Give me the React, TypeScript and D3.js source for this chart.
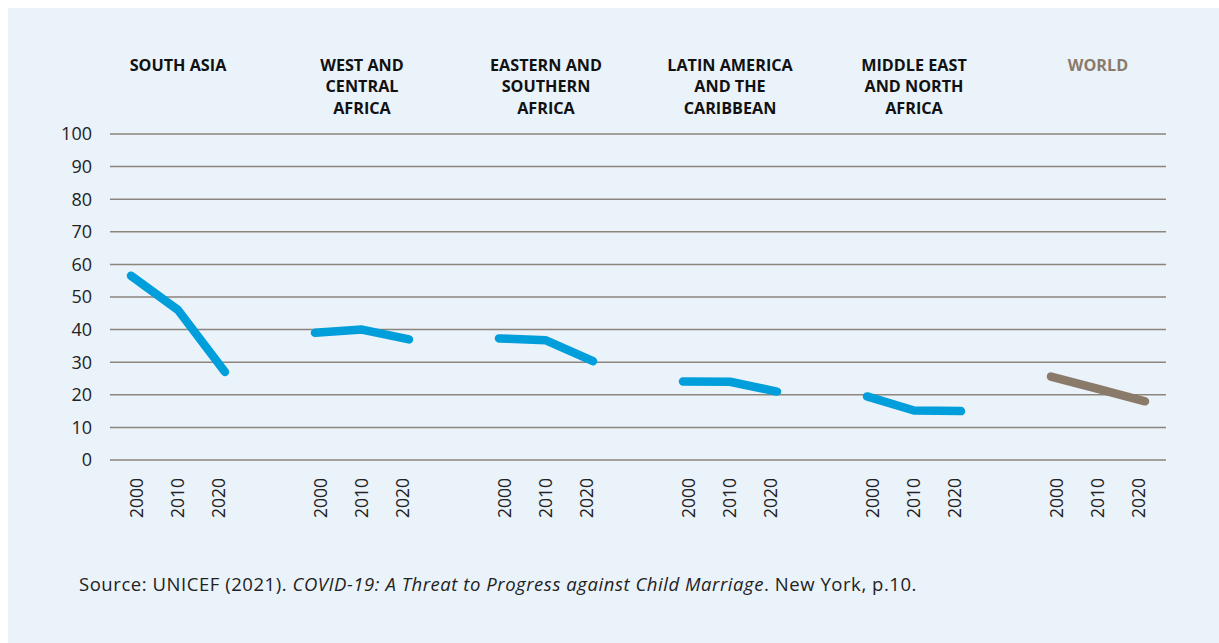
import React from 'react';
import * as d3 from 'd3';

// regions shown as small panels, left to right
const regions = [
  'South Asia',
  'West and Central Africa',
  'Eastern and Southern Africa',
  'Latin America and the Caribbean',
  'Middle East and North Africa',
  'World'
];
// title broken into lines like the original
const regionTitles = [
  ['SOUTH ASIA'],
  ['WEST AND', 'CENTRAL', 'AFRICA'],
  ['EASTERN AND', 'SOUTHERN', 'AFRICA'],
  ['LATIN AMERICA', 'AND THE', 'CARIBBEAN'],
  ['MIDDLE EAST', 'AND NORTH', 'AFRICA'],
  ['WORLD']
];
const years = ['2000', '2010', '2020'];

// percentage values per region, one per year
const southAsia = [56.5, 46, 27];
const westCentralAfrica = [39, 40, 37];
const easternSouthernAfrica = [37.3, 36.7, 30.3];
const latinAmerica = [24.1, 24, 21];
const middleEastNorthAfrica = [19.5, 15.2, 15];
const world = [25.6, 21.8, 18];

const seriesValues = [
  southAsia,
  westCentralAfrica,
  easternSouthernAfrica,
  latinAmerica,
  middleEastNorthAfrica,
  world
];

const yTicks = [0, 10, 20, 30, 40, 50, 60, 70, 80, 90, 100];

const W = 1219;
const H = 643;
const BG = '#eaf2fa';
const BLUE = '#009edb';
const BROWN = '#8a7a6a';
const GRID = '#8b857c';
const FONT = '"Open Sans", "Noto Sans", sans-serif';

const App = () => {
  // where each region's panel is centred
  const xRegion = d3.scalePoint().domain(regions).range([178, 1098]);
  // offsets inside a panel, the line is a little wider than the labels
  const xLine = d3.scalePoint().domain(years).range([-47, 47]);
  const xLabel = d3.scalePoint().domain(years).range([-41, 41]);
  const y = d3.scaleLinear().domain([0, 100]).range([460, 134]);

  const gridLeft = 110;
  const gridRight = 1166;

  const line = d3
    .line<number>()
    .x((_, i) => xLine(years[i]))
    .y(d => y(d));

  return (
    <div
      style={{
        position: 'fixed',
        left: 0,
        top: 0,
        width: W,
        height: H,
        overflow: 'hidden',
        background: 'white'
      }}
    >
      <svg width={W} height={H} style={{ display: 'block', fontFamily: FONT }}>
        <rect x={8} y={8} width={W - 8} height={H - 8} fill={BG} />

        {/* grid + y axis */}
        {yTicks.map(t => (
          <g key={t}>
            <line
              x1={gridLeft}
              x2={gridRight}
              y1={y(t)}
              y2={y(t)}
              stroke={GRID}
              strokeWidth={1.5}
            />
            <text
              x={92}
              y={y(t)}
              dy="0.36em"
              textAnchor="end"
              fontSize={18}
              fill="#222"
            >
              {t}
            </text>
          </g>
        ))}

        {regions.map((r, ri) => {
          const cx = xRegion(r);
          const isWorld = r === 'World';
          return (
            <g key={r}>
              <text
                textAnchor="middle"
                fontSize={16.2}
                fontWeight={700}
                fill={isWorld ? BROWN : '#111'}
              >
                {regionTitles[ri].map((t, li) => (
                  <tspan key={li} x={cx} y={70.5 + li * 21.5}>
                    {t}
                  </tspan>
                ))}
              </text>
              <path
                transform={`translate(${cx},0)`}
                d={line(seriesValues[ri])}
                fill="none"
                stroke={isWorld ? BROWN : BLUE}
                strokeWidth={8.5}
                strokeLinecap="round"
                strokeLinejoin="round"
              />
              {years.map(yr => (
                <text
                  key={yr}
                  transform={`translate(${cx + xLabel(yr)},478) rotate(-90)`}
                  dy="0.36em"
                  textAnchor="end"
                  fontSize={17.5}
                  fill="#222"
                >
                  {yr}
                </text>
              ))}
            </g>
          );
        })}

        <text x={79} y={591} fontSize={18.5} letterSpacing={0.55} fill="#222">
          Source: UNICEF (2021).{' '}
          <tspan fontStyle="italic">
            COVID-19: A Threat to Progress against Child Marriage
          </tspan>
          . New York, p.10.
        </text>
      </svg>
    </div>
  );
};

export default App;
